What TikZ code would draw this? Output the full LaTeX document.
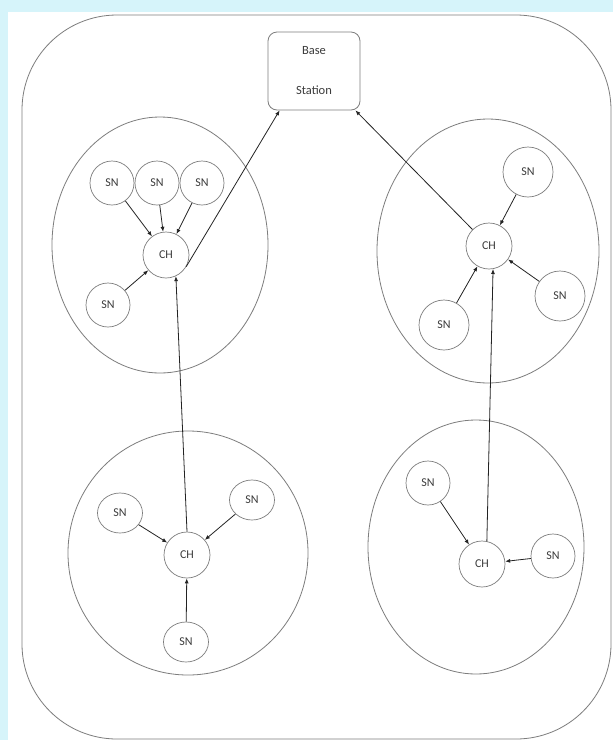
\documentclass[tikz,border=0pt]{standalone}
\usepackage{fontspec}
\setmainfont{Carlito}
\usepackage{tikz}
\usetikzlibrary{arrows.meta,positioning,calc,shapes.geometric}
\usepackage{xcolor}
\definecolor{framegray}{RGB}{125,125,125}
\definecolor{linkblack}{RGB}{35,35,35}
\definecolor{labelgray}{RGB}{60,60,60}
\definecolor{slidecyan}{RGB}{214,244,250}

\begin{document}
\begin{tikzpicture}[x=1pt,y=-1pt,
    sensor/.style={circle,draw=framegray,line width=0.7pt,minimum size=44pt,inner sep=0pt,
        text=labelgray,font=\fontsize{12}{14}\selectfont},
    bigsensor/.style={sensor,minimum size=50pt},
    flatsensor/.style={sensor,ellipse,minimum width=45pt,minimum height=40pt},
    clusterhead/.style={sensor,minimum size=46pt},
    cluster/.style={draw=framegray,line width=0.8pt},
    link/.style={draw=linkblack,line width=0.8pt,-{Latex[length=5pt,width=4pt]}}]
        % Background and outer field
        \fill[slidecyan] (0,0) rectangle (613,740);
        \fill[white] (8,12) rectangle (613,740);
        \draw[cluster,rounded corners=95pt] (22,15) rectangle (611,739);

        % Base station
        \node[draw=framegray,line width=0.8pt,rounded corners=9pt,minimum width=92pt,minimum height=78pt,
            align=center,text=labelgray,font=\fontsize{12.5}{15}\selectfont] (bs) at (314,71) {Base\\[25pt]Station};

        % Cluster regions
        \draw[cluster] (160,245) ellipse [x radius=108pt,y radius=128pt];
        \draw[cluster] (488,251) ellipse [x radius=111pt,y radius=132pt];
        \draw[cluster] (188,553) ellipse [x radius=120pt,y radius=122pt];
        \draw[cluster] (476,547) ellipse [x radius=108pt,y radius=127pt];

        % Top left cluster
        \node[clusterhead] (cha) at (166,255) {CH};
        \node[sensor] (sna1) at (112,183) {SN};
        \node[sensor] (sna2) at (157,183) {SN};
        \node[sensor] (sna3) at (202,183) {SN};
        \node[sensor] (sna4) at (108,305) {SN};

        % Top right cluster
        \node[clusterhead] (chb) at (489,246) {CH};
        \node[bigsensor] (snb1) at (528,172) {SN};
        \node[bigsensor] (snb2) at (560,296) {SN};
        \node[bigsensor] (snb3) at (444,325) {SN};

        % Bottom left cluster
        \node[clusterhead] (chc) at (187,555) {CH};
        \node[flatsensor] (snc1) at (120,513) {SN};
        \node[flatsensor] (snc2) at (252,500) {SN};
        \node[flatsensor] (snc3) at (186,642) {SN};

        % Bottom right cluster
        \node[clusterhead] (chd) at (482,564) {CH};
        \node[sensor] (snd1) at (428,483) {SN};
        \node[sensor] (snd2) at (553,556) {SN};

        % Sensor to head links
        \foreach \s in {sna1,sna2,sna3,sna4} \draw[link] (\s) -- (cha);
        \foreach \s in {snb1,snb2,snb3} \draw[link] (\s) -- (chb);
        \foreach \s in {snc1,snc2,snc3} \draw[link] (\s) -- (chc);
        \foreach \s in {snd1,snd2} \draw[link] (\s) -- (chd);

        % Head to head and head to base station links
        \draw[link] (chc.north) -- (cha.-65);
        \draw[link] (chd.78) -- (chb.-80);
        \draw[link] (cha.-30) -- ([xshift=12pt]bs.south west);
        \draw[link] (chb.135) -- ([xshift=-5pt]bs.south east);
    \end{tikzpicture}
\end{document}
